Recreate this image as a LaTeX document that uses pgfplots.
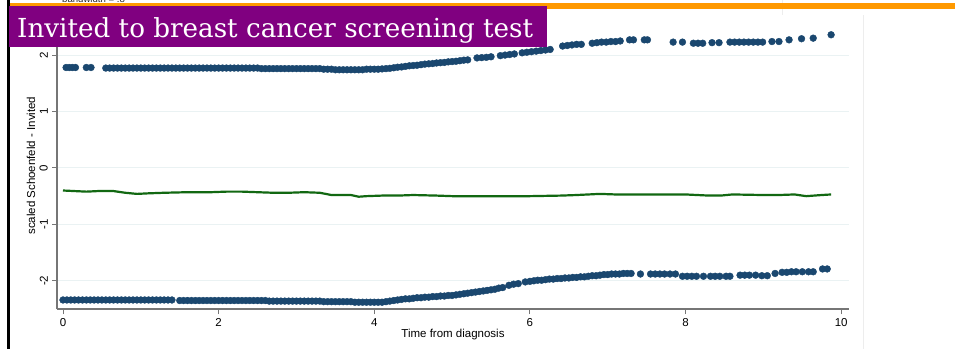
\documentclass[border=0pt]{standalone}
\usepackage{fontspec}
\setmainfont{Liberation Sans}
\newfontfamily\titlefont{DejaVu Serif}
\usepackage{pgfplots}
\pgfplotsset{compat=1.18}

\definecolor{stnavy}{RGB}{26,71,111}
\definecolor{stgreen}{RGB}{18,104,18}
\definecolor{stgrid}{RGB}{234,242,243}
\definecolor{staxis}{RGB}{118,118,118}
\definecolor{slideorange}{RGB}{255,153,0}
\definecolor{slidepurple}{RGB}{128,0,128}

\begin{document}
\begin{tikzpicture}[x=1pt,y=1pt]
\useasboundingbox (0,0) rectangle (955,349);
\fill[white] (0,0) rectangle (955,349);

% Stata note at the top of the graph region
\node[anchor=base west, inner sep=0pt, text=black!85] at (62,346)
  {\fontsize{9.6}{11}\selectfont bandwidth = .8};

% faint graph-region borders
\draw[black!7, line width=0.8pt] (863,0) -- (863,334);
\draw[black!7, line width=0.8pt] (782,334) -- (782,349);

\begin{axis}[
  at={(57pt,40pt)}, anchor=south west,
  scale only axis, width=792pt, height=281pt,
  xmin=-0.077, xmax=10.10, ymin=-2.5, ymax=2.48,
  axis x line*=bottom, axis y line*=left,
  axis line style={staxis, line width=1.3pt, -},
  xtick={0,2,...,10}, ytick={-2,-1,0,1,2},
  tick align=outside, major tick length=5pt,
  tick style={staxis, line width=0.9pt},
  ymajorgrids, grid style={stgrid, line width=1pt},
  /pgf/number format/assume math mode=true,
  ticklabel style={font=\fontsize{11.5}{13}\selectfont, inner sep=0pt},
  xticklabel style={anchor=north, yshift=-4pt},
  yticklabel style={xshift=-4pt, rotate=90, anchor=south},
  xlabel={Time from diagnosis},
  ylabel={scaled Schoenfeld - Invited},
  label style={font=\fontsize{11.5}{13}\selectfont, inner sep=0pt},
  xlabel style={at={(axis description cs:0.5,-0.0712)}, anchor=north},
  ylabel style={at={(axis description cs:-0.0328,0.51)}, anchor=center, rotate=0},
  clip=false,
]
% residuals, invited = 1
\addplot[only marks, mark=*, mark size=3.4pt, stnavy, mark options={draw=stnavy, fill=stnavy}] coordinates {
(0.04,1.78) (0.08,1.78) (0.12,1.78) (0.16,1.78) (0.30,1.78) (0.36,1.78)
(0.55,1.77) (0.60,1.77) (0.65,1.77) (0.70,1.77) (0.75,1.77) (0.80,1.77) (0.85,1.77) (0.90,1.77)
(0.95,1.77) (1.00,1.77) (1.05,1.77) (1.10,1.77) (1.15,1.77) (1.20,1.77) (1.25,1.77) (1.30,1.77)
(1.35,1.77) (1.40,1.77) (1.45,1.77) (1.50,1.77) (1.55,1.77) (1.60,1.77) (1.65,1.77) (1.70,1.77)
(1.75,1.77) (1.80,1.77) (1.85,1.77) (1.90,1.77) (1.95,1.77) (2.00,1.77) (2.05,1.77) (2.10,1.77)
(2.15,1.77) (2.20,1.77) (2.25,1.77) (2.30,1.77) (2.35,1.77) (2.40,1.77) (2.45,1.77) (2.50,1.77)
(2.55,1.76) (2.60,1.76) (2.65,1.76) (2.70,1.76) (2.75,1.76) (2.80,1.76) (2.85,1.76) (2.90,1.76)
(2.95,1.76) (3.00,1.76) (3.05,1.76) (3.10,1.76) (3.15,1.76) (3.20,1.76) (3.25,1.76) (3.30,1.76)
(3.35,1.75) (3.40,1.75) (3.45,1.75) (3.50,1.74) (3.55,1.74) (3.60,1.74) (3.65,1.74) (3.70,1.74)
(3.75,1.74) (3.80,1.74) (3.85,1.74) (3.90,1.75) (3.95,1.75) (4.00,1.75)
(4.05,1.75) (4.10,1.755) (4.15,1.76) (4.20,1.765) (4.25,1.775) (4.30,1.785) (4.35,1.79) (4.40,1.80)
(4.45,1.81) (4.50,1.815) (4.55,1.82) (4.60,1.83) (4.65,1.84) (4.70,1.845) (4.75,1.85) (4.80,1.86)
(4.85,1.865) (4.90,1.87) (4.95,1.88) (5.00,1.885) (5.05,1.89) (5.10,1.90) (5.15,1.91) (5.20,1.915)
(5.32,1.95) (5.38,1.955) (5.44,1.96) (5.50,1.97)
(5.62,1.99) (5.68,2.00) (5.74,2.01) (5.80,2.02)
(5.90,2.04) (5.96,2.05) (6.02,2.06) (6.08,2.07) (6.14,2.08) (6.20,2.09) (6.26,2.10)
(6.42,2.16) (6.48,2.17) (6.54,2.18) (6.60,2.19) (6.66,2.19)
(6.80,2.21) (6.86,2.22) (6.92,2.23) (6.98,2.23) (7.04,2.24) (7.10,2.24) (7.16,2.25)
(7.28,2.27) (7.33,2.27) (7.47,2.27) (7.51,2.27) (7.84,2.23) (7.96,2.23) (8.10,2.21) (8.16,2.21) (8.22,2.21)
(8.34,2.22) (8.43,2.22) (8.57,2.23) (8.63,2.23) (8.69,2.23) (8.75,2.23) (8.81,2.23) (8.87,2.23)
(8.93,2.23) (8.99,2.23) (9.11,2.24) (9.20,2.24) (9.33,2.27) (9.49,2.29) (9.64,2.30) (9.87,2.36)
};
% residuals, invited = 0
\addplot[only marks, mark=*, mark size=3.4pt, stnavy, mark options={draw=stnavy, fill=stnavy}] coordinates {
(0.00,-2.34) (0.05,-2.34) (0.10,-2.34) (0.15,-2.34) (0.20,-2.34) (0.25,-2.34) (0.30,-2.34) (0.35,-2.34)
(0.40,-2.34) (0.45,-2.34) (0.50,-2.34) (0.55,-2.34) (0.60,-2.34) (0.65,-2.34) (0.70,-2.34) (0.75,-2.34)
(0.80,-2.34) (0.85,-2.34) (0.90,-2.34) (0.95,-2.34) (1.00,-2.34) (1.05,-2.34) (1.10,-2.34) (1.15,-2.34)
(1.20,-2.34) (1.25,-2.34) (1.30,-2.34) (1.35,-2.34) (1.40,-2.34)
(1.50,-2.35) (1.55,-2.35) (1.60,-2.35) (1.65,-2.35) (1.70,-2.35) (1.75,-2.35) (1.80,-2.35) (1.85,-2.35)
(1.90,-2.35) (1.95,-2.35) (2.00,-2.35) (2.05,-2.35) (2.10,-2.35) (2.15,-2.35) (2.20,-2.35) (2.25,-2.35)
(2.30,-2.35) (2.35,-2.35) (2.40,-2.35) (2.45,-2.35) (2.50,-2.35) (2.55,-2.35) (2.60,-2.35)
(2.65,-2.36) (2.70,-2.36) (2.75,-2.36) (2.80,-2.36) (2.85,-2.36) (2.90,-2.36) (2.95,-2.36) (3.00,-2.36)
(3.05,-2.36) (3.10,-2.36) (3.15,-2.36) (3.20,-2.36) (3.25,-2.36) (3.30,-2.36)
(3.35,-2.37) (3.40,-2.37) (3.45,-2.37) (3.50,-2.37) (3.55,-2.37) (3.60,-2.37) (3.65,-2.37) (3.70,-2.37)
(3.75,-2.38) (3.80,-2.38) (3.85,-2.38) (3.90,-2.38) (3.95,-2.38) (4.00,-2.38) (4.05,-2.38) (4.10,-2.38)
(4.15,-2.37) (4.20,-2.36) (4.25,-2.35) (4.30,-2.34) (4.35,-2.33) (4.40,-2.32) (4.45,-2.32) (4.50,-2.31)
(4.55,-2.30) (4.60,-2.30) (4.65,-2.29) (4.70,-2.29) (4.75,-2.28) (4.80,-2.28) (4.85,-2.27) (4.90,-2.27)
(4.95,-2.26) (5.00,-2.26) (5.05,-2.25) (5.10,-2.24) (5.15,-2.23) (5.20,-2.22) (5.25,-2.21) (5.30,-2.20)
(5.35,-2.19) (5.40,-2.18) (5.45,-2.17) (5.50,-2.16) (5.55,-2.15) (5.60,-2.13) (5.65,-2.12)
(5.73,-2.08) (5.79,-2.06) (5.85,-2.05)
(5.94,-2.02) (6.00,-2.01) (6.05,-2.00) (6.10,-1.99) (6.15,-1.99) (6.20,-1.98) (6.25,-1.97) (6.30,-1.97)
(6.35,-1.96) (6.40,-1.96) (6.45,-1.95) (6.50,-1.95) (6.55,-1.94) (6.60,-1.94) (6.65,-1.93) (6.70,-1.93)
(6.75,-1.92) (6.80,-1.91) (6.85,-1.91) (6.90,-1.90) (6.95,-1.89) (7.00,-1.89) (7.05,-1.88) (7.10,-1.88)
(7.15,-1.88) (7.20,-1.87) (7.25,-1.87) (7.30,-1.87)
(7.42,-1.88) (7.55,-1.88) (7.61,-1.88) (7.67,-1.88) (7.73,-1.88) (7.80,-1.88) (7.87,-1.88)
(7.96,-1.92) (8.02,-1.92) (8.08,-1.92) (8.14,-1.92) (8.23,-1.92)
(8.32,-1.92) (8.38,-1.92) (8.44,-1.92) (8.52,-1.92) (8.57,-1.92)
(8.70,-1.90) (8.76,-1.90) (8.82,-1.90) (8.90,-1.90) (8.98,-1.91) (9.05,-1.91)
(9.15,-1.87) (9.24,-1.85) (9.30,-1.85) (9.36,-1.84) (9.42,-1.84) (9.50,-1.84) (9.58,-1.84) (9.64,-1.84)
(9.76,-1.79) (9.82,-1.79)
};
% lowess smooth
\addplot[stgreen, line width=2.2pt, no marks] coordinates {
(0.00,-0.40) (0.15,-0.41) (0.30,-0.42) (0.45,-0.41) (0.65,-0.41) (0.80,-0.44) (0.95,-0.46)
(1.10,-0.45) (1.30,-0.44) (1.60,-0.43) (1.90,-0.43) (2.10,-0.42) (2.30,-0.42) (2.50,-0.43)
(2.70,-0.44) (2.90,-0.44) (3.10,-0.43) (3.30,-0.44) (3.45,-0.48) (3.70,-0.48) (3.80,-0.51)
(3.90,-0.50) (4.10,-0.49) (4.30,-0.49) (4.50,-0.48) (4.80,-0.49) (5.00,-0.50) (5.50,-0.50)
(6.00,-0.50) (6.40,-0.49) (6.60,-0.48) (6.90,-0.46) (7.10,-0.47) (7.50,-0.47) (8.00,-0.47)
(8.30,-0.49) (8.45,-0.49) (8.60,-0.47) (9.00,-0.48) (9.20,-0.48) (9.40,-0.47) (9.55,-0.50)
(9.65,-0.49) (9.75,-0.48) (9.87,-0.47)
};
\end{axis}

% slide decoration
\fill[slideorange] (9,340) rectangle (955,346);
\fill[black] (7,0) rectangle (10,349);
\fill[slidepurple] (9,302) rectangle (547,343);
\node[anchor=base west, inner sep=0pt, text=white] at (17,312)
  {\titlefont\fontsize{26.2}{30}\selectfont Invited to breast cancer screening test};
\end{tikzpicture}
\end{document}
